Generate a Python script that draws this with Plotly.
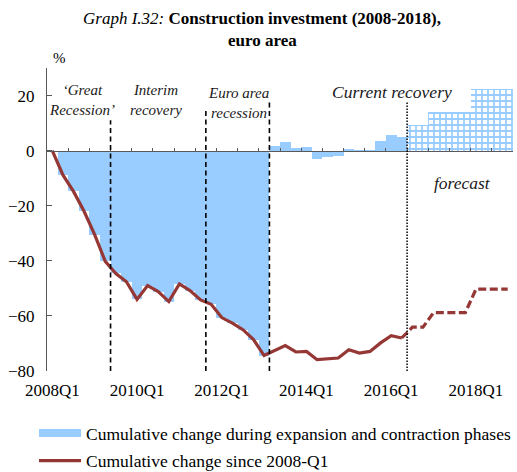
import plotly.graph_objects as go

# ---------------- data ----------------
years = list(range(2008, 2019))
quarters = [f"{y}Q{q}" for y in years for q in range(1, 5)]  # 2008Q1 .. 2018Q4

# Cumulative change since 2008-Q1 (actual), 2008Q1 .. 2016Q2
line_actual = [0.0, -8.8, -14.8, -22.0, -30.5, -40.2, -44.6, -47.6, -54.0, -49.0,
               -51.2, -54.8, -48.4, -50.8, -54.2, -55.8, -60.6, -62.6, -65.0, -68.6,
               -74.4, -72.6, -70.8, -73.1, -72.9, -75.9, -75.6, -75.3, -72.3, -73.5,
               -72.9, -69.8, -67.2, -68.0]
# Forecast part, 2016Q2 .. 2018Q4
line_forecast = [-68.0, -64.1, -64.1, -58.8, -58.8, -58.8, -58.8, -50.3, -50.3, -50.3, -50.3]

# Cumulative change during expansion and contraction phases, 2008Q1 .. 2018Q4
phase_change = [0.0, -8.8, -14.8, -22.0, -30.5, -40.2, -44.6, -47.6, -54.0, -49.0,
                -51.2, -54.8, -48.4, -50.8, -54.2, -55.8, -60.6, -62.6, -65.0, -68.6,
                -74.4, 1.8, 3.3, 1.1, 1.3, -3.0, -2.4, -2.0, 0.6, -0.6,
                0.1, 3.4, 5.7, 5.1, 9.4, 9.4, 14.0, 14.0, 14.0, 14.0,
                22.3, 22.3, 22.3, 22.3]
first_forecast = "2016Q3"

# Phase boundaries: last quarter of each phase
phase_ends = ["2009Q2", "2011Q3", "2013Q1"]
phase_line_tops = [11, 15.5, 17.5]
forecast_line_top = 18

tick_labels = ["2008Q1", "2010Q1", "2012Q1", "2014Q1", "2016Q1", "2018Q1"]
y_ticks = [-80, -60, -40, -20, 0, 20]

# ---------------- figure ----------------
W, H = 517, 472
ML, MR, MT, MB = 47, 4, 68, 101
PW, PH = W - ML - MR, H - MT - MB

BLUE = "#99CCFF"
RED = "#953735"
FONT = "Liberation Serif"
AX = "#595959"


def px_x(px):
    return (px - ML) / PW


def px_y(py):
    return (H - MB - py) / PH


idx = list(range(len(quarters)))
ff = quarters.index(first_forecast)
patterns = ["" if i < ff else "+" for i in idx]

fig = go.Figure()
fig.add_trace(go.Bar(
    x=idx, y=phase_change, width=1.0,
    marker=dict(color=BLUE, line=dict(width=0),
                pattern=dict(shape=patterns, fgcolor=BLUE, bgcolor="white",
                             size=6, solidity=0.5, fillmode="replace")),
    showlegend=False, hoverinfo="skip"))

# legend entry for the bars (wide band)
fig.add_trace(go.Scatter(
    x=[None], y=[None], mode="lines", line=dict(color=BLUE, width=8),
    name="Cumulative change during expansion and contraction phases",
    legendgroup="a"))

fig.add_trace(go.Scatter(
    x=idx[:len(line_actual)], y=line_actual, mode="lines",
    line=dict(color=RED, width=3.2),
    name="Cumulative change since 2008-Q1", legendgroup="b"))
fig.add_trace(go.Scatter(
    x=idx[len(line_actual) - 1:], y=line_forecast, mode="lines",
    line=dict(color=RED, width=3.2, dash="8px,3.5px"),
    showlegend=False, legendgroup="b"))

# dummy trace for the zero-line axis
fig.add_trace(go.Scatter(x=[None], y=[None], xaxis="x2", showlegend=False, hoverinfo="skip"))

shapes = []
for q, top in zip(phase_ends, phase_line_tops):
    xb = quarters.index(q) + 0.5
    shapes.append(dict(type="line", x0=xb, x1=xb, y0=-80, y1=top, xref="x", yref="y",
                       line=dict(color="black", width=1.6, dash="5px,3.5px"), layer="above"))
xb = ff - 0.5
shapes.append(dict(type="line", x0=xb, x1=xb, y0=-80, y1=forecast_line_top, xref="x", yref="y",
                   line=dict(color="black", width=1.5, dash="1.5px,1.5px"), layer="above"))

ann_font = dict(family=FONT, size=15, color="#1a1a1a")
big_ann = dict(family=FONT, size=17.5, color="#1a1a1a")
annotations = [
    dict(text="<i>\u2018Great<br>Recession\u2019</i>", x=2.8, y=18.4, xref="x", yref="y",
         showarrow=False, font=ann_font, align="center"),
    dict(text="<i>Interim<br>recovery</i>", x=9.77, y=18.4, xref="x", yref="y",
         showarrow=False, font=ann_font, align="center"),
    dict(text="<i>Euro area<br>recession</i>", x=17.54, y=17.3, xref="x", yref="y",
         showarrow=False, font=ann_font, align="center"),
    dict(text="<i>Current recovery</i>", x=32.1, y=21.2, xref="x", yref="y",
         showarrow=False, font=big_ann),
    dict(text="<i>forecast</i>", x=38.7, y=-11.8, xref="x", yref="y",
         showarrow=False, font=big_ann),
    dict(text="%", x=px_x(59), y=px_y(58), xref="paper", yref="paper", showarrow=False,
         xanchor="center", yanchor="middle", font=dict(family=FONT, size=15, color="black")),
    dict(text="<i>Graph I.32:</i> <b>Construction investment (2008-2018),</b>",
         x=px_x(262), y=px_y(18), xref="paper", yref="paper", showarrow=False,
         xanchor="center", yanchor="middle", font=dict(family=FONT, size=17, color="black")),
    dict(text="<b>euro area</b>",
         x=px_x(262), y=px_y(40), xref="paper", yref="paper", showarrow=False,
         xanchor="center", yanchor="middle", font=dict(family=FONT, size=17, color="black")),
]

fig.update_layout(
    width=W, height=H,
    margin=dict(l=ML, r=MR, t=MT, b=MB, autoexpand=False),
    paper_bgcolor="white", plot_bgcolor="white",
    font=dict(family=FONT, size=17, color="black"),
    barmode="overlay", bargap=0,
    xaxis=dict(range=[-0.5, len(quarters) - 0.5],
               tickvals=[quarters.index(t) for t in tick_labels], ticktext=tick_labels,
               ticks="", showline=False, showgrid=False, zeroline=False,
               tickfont=dict(family=FONT, size=17), ticklabelstandoff=7),
    xaxis2=dict(range=[-0.5, len(quarters) - 0.5], overlaying="x", anchor="free",
                position=80 / 110, showline=True, linecolor=AX, linewidth=1.2,
                ticks="inside", ticklen=3, tickcolor=AX, tickwidth=1,
                tickvals=[i - 0.5 for i in idx[::2]], showticklabels=False,
                showgrid=False, zeroline=False),
    yaxis=dict(range=[-80, 30], tickvals=y_ticks, showline=True, linecolor=AX,
               linewidth=1.2, ticks="inside", ticklen=5, tickcolor=AX,
               showgrid=False, zeroline=False, tickfont=dict(family=FONT, size=17),
               ticklabelstandoff=8),
    shapes=shapes, annotations=annotations,
    legend=dict(orientation="v", xref="container", yref="container",
                x=34 / W, xanchor="left", y=1 - 415 / H, yanchor="top",
                traceorder="grouped", tracegroupgap=2, itemwidth=42,
                font=dict(family=FONT, size=17.5, color="black"),
                bgcolor="rgba(0,0,0,0)"),
)

fig.write_html("out.html", config={"displayModeBar": False},
               post_script="document.body.style.margin='0';document.body.style.overflow='hidden';")
